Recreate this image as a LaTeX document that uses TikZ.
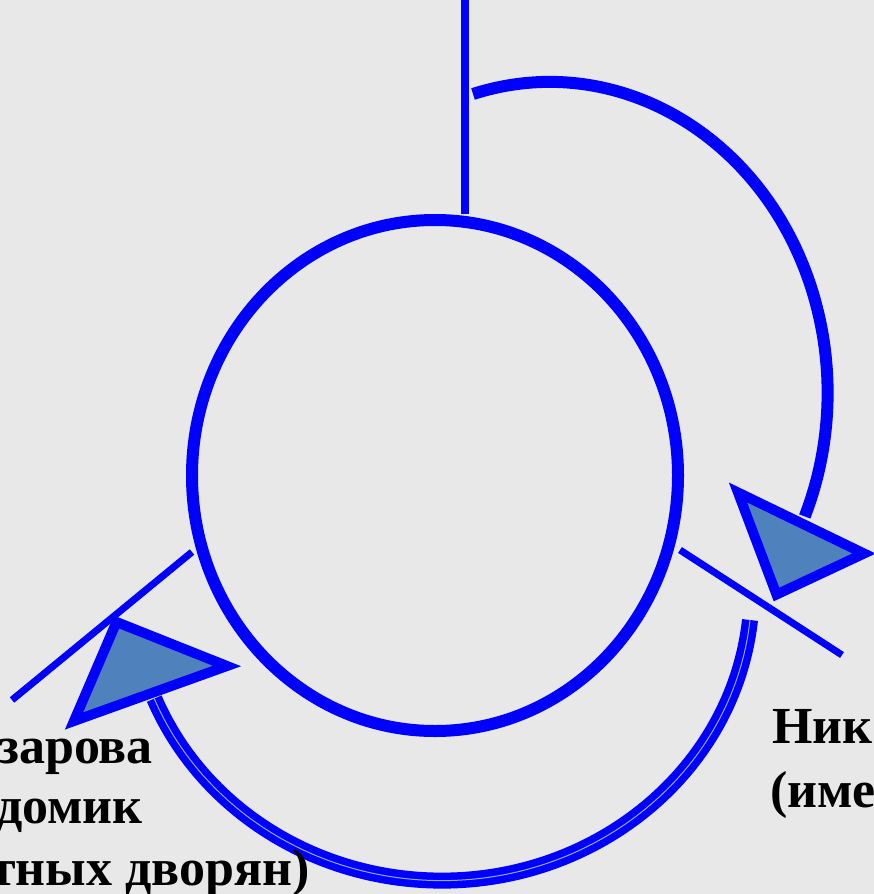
\documentclass[tikz,border=0pt]{standalone}
\usepackage{fontspec}
\setmainfont{Liberation Serif}
\usetikzlibrary{shapes.geometric}
\definecolor{pblue}{RGB}{0,0,255}
\definecolor{hfill}{RGB}{79,129,189}
\definecolor{bg}{RGB}{232,232,232}
\definecolor{midline}{RGB}{150,170,230}
\begin{document}
\begin{tikzpicture}[x=1pt,y=-1pt,line join=miter,ring/.style={draw=pblue,ellipse,line width=12pt,inner sep=0pt,minimum width=486pt,minimum height=511pt},tick/.style={draw=pblue,line width=7pt},bow/.style={draw=pblue,line width=12pt},head/.style={draw=pblue,fill=hfill,line width=10pt},lbl/.style={font=\bfseries\fontsize{52}{62}\selectfont,inner sep=0pt}]
\useasboundingbox[fill=bg](0,0) rectangle (874,894);
\node[ring] (c) at (435,475.5) {};
\coordinate (top) at (465,0);
\coordinate (l1) at (192,552); \coordinate (l2) at (12,700);
\coordinate (r1) at (680,550); \coordinate (r2) at (842,655);
\coordinate (a1) at (473,94); \coordinate (b1) at (750,620);
\draw[pblue,line width=8pt](top)--(top|-c.north);
\draw[tick](l1)--(l2);\draw[tick](r1)--(r2);
\draw[bow](a1) arc[start angle=-106,end angle=23.4,x radius=278,y radius=311];
\draw[pblue,line width=7.5pt,double=midline,double distance=1pt](b1) arc[start angle=6,end angle=158,x radius=310,y radius=291];
\draw[head](738,492.5)--(864,553.5)--(776.5,594.5)--cycle;
\draw[head](116.5,622)--(227,666)--(74,721)--cycle;
\node[lbl,anchor=base east] (t1) at (153,763) {зарова};
\node[lbl,anchor=base east] (t2) at (143,823) {домик};
\node[lbl,anchor=base east] (t3) at (310,885) {тных дворян)};
\node[lbl,anchor=base west] (t4) at (772,743) {Ник};
\node[lbl,anchor=base west] (t5) at (770,807) {(име};
\end{tikzpicture}
\end{document}
